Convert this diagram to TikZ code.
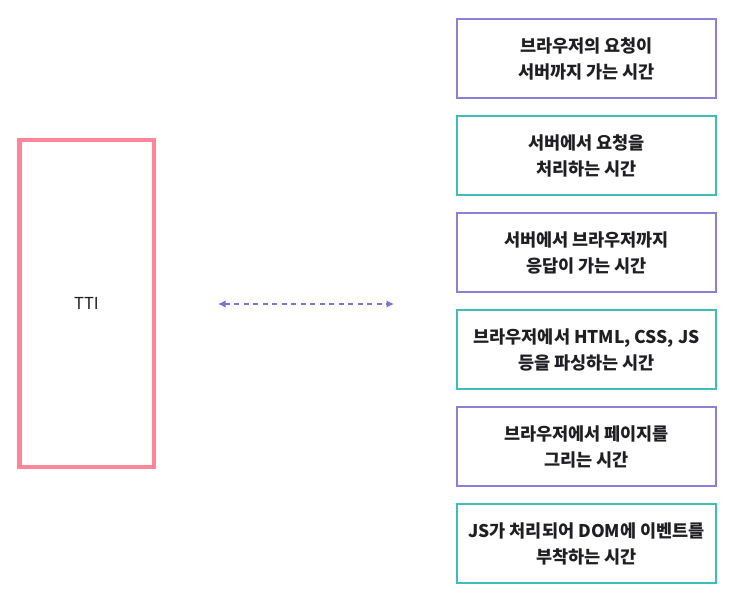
\documentclass[tikz,border=0pt]{standalone}
\usepackage{fontspec}
\setmainfont{Noto Sans CJK KR}
\usetikzlibrary{arrows.meta,positioning}
\definecolor{ttipink}{HTML}{FF8599}
\definecolor{stepviolet}{HTML}{8A80D9}
\definecolor{stepteal}{HTML}{3FBDB9}
\definecolor{linkviolet}{HTML}{7B74D6}
\definecolor{ink}{HTML}{1E1E24}
\tikzset{
  ttibox/.style={draw=ttipink,line width=4.5pt,minimum width=134.5pt,minimum height=326.5pt,
    text=ink,font=\fontsize{16.5}{19}\selectfont},
  stepbox/.style={line width=2pt,minimum width=259pt,minimum height=79pt,align=center,
    text=ink,font=\bfseries\fontsize{17.5}{26}\selectfont},
  violetbox/.style={stepbox,draw=stepviolet},
  tealbox/.style={stepbox,draw=stepteal},
  link/.style={{Latex[length=7.5pt,width=7.5pt]}-{Latex[length=7.5pt,width=7.5pt]},
    linkviolet,line width=1.4pt,dash pattern=on 5pt off 4.5pt}
}

\begin{document}
\begin{tikzpicture}[x=1pt,y=1pt,node distance=16pt]
\useasboundingbox (0,0) rectangle (736,-599);
% TTI and the six steps
\node[ttibox] (tti) at (86.5,-303.5) {TTI};
\node[violetbox] (req) at (586.5,-58.5) {브라우저의 요청이\\서버까지 가는 시간};
\node[tealbox,below=of req] (proc) {서버에서 요청을\\처리하는 시간};
\node[violetbox,below=of proc] (resp) {서버에서 브라우저까지\\응답이 가는 시간};
\node[tealbox,below=of resp] (parse) {브라우저에서 HTML, CSS, JS\\등을 파싱하는 시간};
\node[violetbox,below=of parse] (paint) {브라우저에서 페이지를\\그리는 시간};
\node[tealbox,below=of paint] (bind) {JS가 처리되어 DOM에 이벤트를\\부착하는 시간};
\coordinate (linkl) at (218,-304);
\coordinate (linkr) at (394,-304);
\draw[link] (linkl)--(linkr);
\end{tikzpicture}
\end{document}
